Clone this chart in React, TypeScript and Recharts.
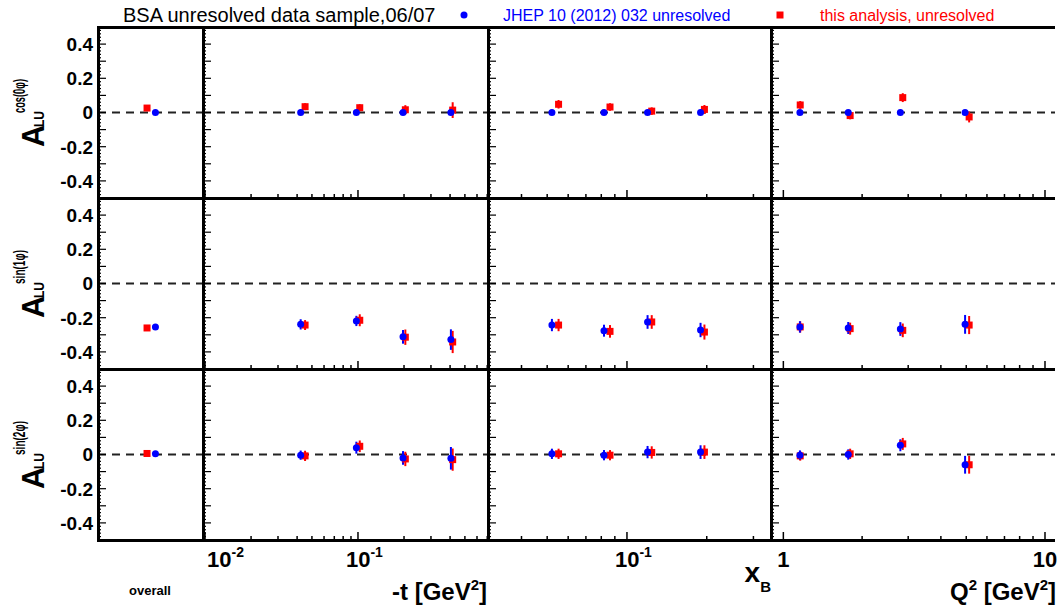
import React from 'react';
import { ScatterChart, Scatter, XAxis, YAxis, ErrorBar, ReferenceLine } from 'recharts';

// bin centres, one sub-array per column: overall, -t, xB, Q2
const blueX = [[0.547], [0.0422, 0.0976, 0.197, 0.405], [0.0521, 0.0819, 0.1196, 0.1895], [1.157, 1.77, 2.8, 4.95]];
const redX = [[0.467], [0.0451, 0.1027, 0.204, 0.416], [0.0552, 0.0863, 0.124, 0.196], [1.16, 1.8, 2.86, 5.13]];

// A_LU^cos(0phi)
const cos0Blue = [[0], [0, 0, 0, 0], [0, 0, 0, 0], [0, 0, 0, 0]];
const cos0BlueErr = [[0], [0, 0, 0, 0], [0, 0, 0, 0], [0, 0, 0, 0]];
const cos0Red = [[0.026], [0.034, 0.028, 0.016, 0.014], [0.048, 0.032, 0.008, 0.018], [0.044, -0.018, 0.087, -0.026]];
const cos0RedErr = [[0.006], [0.02, 0.02, 0.027, 0.046], [0.025, 0.022, 0.022, 0.026], [0.023, 0.022, 0.026, 0.032]];

// A_LU^sin(1phi)
const sin1Blue = [[-0.255], [-0.239, -0.219, -0.312, -0.328], [-0.243, -0.276, -0.225, -0.272], [-0.254, -0.26, -0.266, -0.239]];
const sin1BlueErr = [[0.008], [0.03, 0.03, 0.04, 0.06], [0.036, 0.035, 0.04, 0.042], [0.033, 0.035, 0.04, 0.055]];
const sin1Red = [[-0.26], [-0.243, -0.215, -0.314, -0.342], [-0.243, -0.28, -0.225, -0.284], [-0.254, -0.264, -0.274, -0.243]];
const sin1RedErr = [[0.008], [0.029, 0.035, 0.045, 0.065], [0.036, 0.037, 0.04, 0.044], [0.033, 0.035, 0.04, 0.053]];

// A_LU^sin(2phi)
const sin2Blue = [[0.004], [-0.004, 0.04, -0.02, -0.022], [0.004, -0.004, 0.014, 0.014], [-0.004, 0, 0.054, -0.06]];
const sin2BlueErr = [[0.008], [0.027, 0.035, 0.04, 0.066], [0.03, 0.03, 0.036, 0.04], [0.028, 0.03, 0.035, 0.052]];
const sin2Red = [[0.006], [-0.008, 0.048, -0.026, -0.03], [0.004, -0.004, 0.012, 0.014], [-0.008, 0.004, 0.062, -0.06]];
const sin2RedErr = [[0.008], [0.03, 0.034, 0.042, 0.065], [0.03, 0.03, 0.036, 0.04], [0.028, 0.03, 0.035, 0.052]];

const rowSup = ['cos(0\u03c6)', 'sin(1\u03c6)', 'sin(2\u03c6)'];

// axis ticks
const tTicks = [0.01, 0.02, 0.03, 0.04, 0.05, 0.06, 0.07, 0.08, 0.09, 0.1, 0.2, 0.3, 0.4, 0.5, 0.6, 0.7];
const xbTicks = [0.04, 0.05, 0.06, 0.07, 0.08, 0.09, 0.1, 0.2, 0.3];
const q2Ticks = [1, 2, 3, 4, 5, 6, 7, 8, 9, 10];
const tLabelAt = [0.01, 0.1];
const tLabelText = [['10', '-2'], ['10', '-1']];
const xbLabelAt = [0.1];
const xbLabelText = [['10', '-1']];
const q2LabelAt = [1, 10];
const q2LabelText = [['1', ''], ['10', '']];
const yLabelAt = [0.4, 0.2, 0, -0.2, -0.4];
const yLabelText = ['0.4', '0.2', '0', '-0.2', '-0.4'];

const BLUE = '#0000ff';
const RED = '#ff0000';
const FONT = '"Liberation Sans", Arial, Helvetica, sans-serif';

const colEdges = [98, 203, 488, 771, 1055];
const rowTops = [27, 198, 369];
const H = 171;
const xDomains: [number, number][] = [[0, 1], [0.0097, 0.708], [0.0299, 0.3495], [0.897, 10.92]];
const xTickSets = [[], tTicks, xbTicks, q2Ticks];
const xLabelAts = [[], tLabelAt, xbLabelAt, q2LabelAt];
const xLabelTexts = [[], tLabelText, xbLabelText, q2LabelText];

const blueVals = [cos0Blue, sin1Blue, sin2Blue];
const blueErrs = [cos0BlueErr, sin1BlueErr, sin2BlueErr];
const redVals = [cos0Red, sin1Red, sin2Red];
const redErrs = [cos0RedErr, sin1RedErr, sin2RedErr];

const yTicks = Array.from({ length: 51 }, (_, i) => (i - 25) / 50);

const squareShape = (p: any) => <rect x={p.cx - 3.5} y={p.cy - 3.5} width={7} height={7} fill={RED} />;
const circleShape = (p: any) => <circle cx={p.cx} cy={p.cy} r={3.5} fill={BLUE} />;

function Panel({ r, c }: { r: number; c: number }) {
  const w = colEdges[c + 1] - colEdges[c];
  const red = redX[c].map((x, i) => ({ x, y: redVals[r][c][i], err: redErrs[r][c][i] }));
  const blue = blueX[c].map((x, i) => ({ x, y: blueVals[r][c][i], err: blueErrs[r][c][i] }));
  const bottom = r === 2;

  const xTick = (p: any) => {
    const v = p.payload.value;
    const li = xLabelAts[c].findIndex((a) => Math.abs(a - v) / v < 1e-6);
    const major = li >= 0;
    const len = major ? 8 : 4;
    let label = null;
    if (bottom && major) {
      const [base, exp] = xLabelTexts[c][li];
      if (exp) {
        const sx = p.x - 12 < 0 ? p.x + 2 : p.x - 12;
        label = (
          <text x={sx} y={H + 27} fontSize={22} fontWeight="bold" fontFamily={FONT} fill="#000">
            {base}
            <tspan dy={-10} fontSize={14}>{exp}</tspan>
          </text>
        );
      } else {
        label = (
          <text x={p.x} y={H + 27} fontSize={22} fontWeight="bold" fontFamily={FONT} fill="#000" textAnchor="middle">
            {base}
          </text>
        );
      }
    }
    return (
      <g>
        <line x1={p.x} x2={p.x} y1={H} y2={H - len} stroke="#000" strokeWidth={1.5} />
        {label}
      </g>
    );
  };

  const yTick = (p: any) => {
    const v = p.payload.value;
    const major = Math.round(v * 50) % 5 === 0;
    const li = yLabelAt.findIndex((a) => Math.abs(a - v) < 1e-9);
    return (
      <g>
        <line x1={0} x2={major ? 8 : 3} y1={p.y} y2={p.y} stroke="#000" strokeWidth={1.2} />
        {c === 0 && li >= 0 ? (
          <text x={-5} y={p.y} dy="0.36em" textAnchor="end" fontSize={19} fontWeight="bold" fontFamily={FONT} fill="#000">
            {yLabelText[li]}
          </text>
        ) : null}
      </g>
    );
  };

  return (
    <div style={{ position: 'absolute', left: colEdges[c], top: rowTops[r] }}>
      <ScatterChart width={w} height={H} margin={{ top: 0, right: 0, bottom: 0, left: 0 }}>
        <XAxis
          type="number"
          dataKey="x"
          scale={c === 0 ? 'linear' : 'log'}
          domain={xDomains[c]}
          allowDataOverflow
          ticks={xTickSets[c]}
          interval={0}
          height={30}
          mirror
          axisLine={false}
          tickLine={false}
          hide={c === 0}
          tick={xTick}
        />
        <YAxis
          type="number"
          dataKey="y"
          domain={[-0.5, 0.5]}
          allowDataOverflow
          ticks={yTicks}
          interval={0}
          width={30}
          mirror
          axisLine={false}
          tickLine={false}
          tick={yTick}
        />
        <ReferenceLine y={0} stroke="#222" strokeWidth={2} strokeDasharray="8 6" />
        <Scatter data={red} shape={squareShape} isAnimationActive={false}>
          <ErrorBar dataKey="err" direction="y" width={0} stroke={RED} strokeWidth={2} />
        </Scatter>
        <Scatter data={blue} shape={circleShape} isAnimationActive={false}>
          <ErrorBar dataKey="err" direction="y" width={0} stroke={BLUE} strokeWidth={2} />
        </Scatter>
      </ScatterChart>
    </div>
  );
}

export default function App() {
  const hLines = [27, 198, 369, 540];
  const vLines = [98, 203, 488, 771];
  return (
    <div style={{ position: 'absolute', left: 0, top: 0, width: 1059, height: 606, background: '#fff', fontFamily: FONT }}>
      <style>{`.recharts-surface{overflow:visible}`}</style>
      {[0, 1, 2].map((r) => [0, 1, 2, 3].map((c) => <Panel key={`${r}-${c}`} r={r} c={c} />))}

      {hLines.map((y) => (
        <div key={`h${y}`} style={{ position: 'absolute', left: 97, top: y - 1.5, width: 1055 - 97, height: 3, background: '#000' }} />
      ))}
      {vLines.map((x) => (
        <div key={`v${x}`} style={{ position: 'absolute', left: x - 1.5, top: 25.5, width: 3, height: 540 - 27 + 3, background: '#000' }} />
      ))}

      <svg width={1059} height={606} style={{ position: 'absolute', left: 0, top: 0, pointerEvents: 'none' }} fontFamily={FONT}>
        <text x={123} y={22} fontSize={20} fill="#000">BSA unresolved data sample,06/07</text>
        <circle cx={464} cy={15} r={3.5} fill={BLUE} />
        <text x={503} y={21} fontSize={16} fill={BLUE}>JHEP 10 (2012) 032 unresolved</text>
        <rect x={776.5} y={11.5} width={7} height={7} fill={RED} />
        <text x={820} y={21} fontSize={16} fill={RED}>this analysis, unresolved</text>

        {rowTops.map((t, r) => (
          <g key={r} fontWeight="bold" fill="#000">
            <text transform={`translate(44,${t + 120}) rotate(-90)`} fontSize={32} textLength={22} lengthAdjust="spacingAndGlyphs">A</text>
            <text transform={`translate(44,${t + 100}) rotate(-90)`} fontSize={15} textLength={16} lengthAdjust="spacingAndGlyphs">LU</text>
            <text transform={`translate(25,${t + 86}) rotate(-90)`} fontSize={16} textLength={34} lengthAdjust="spacingAndGlyphs">{rowSup[r]}</text>
          </g>
        ))}

        <text x={150} y={595} fontSize={13} fontWeight="bold" textAnchor="middle">overall</text>
        <text x={487} y={600} fontSize={24} fontWeight="bold" textAnchor="end">
          -t [GeV<tspan fontSize={15} dy={-10}>2</tspan><tspan dy={10}>]</tspan>
        </text>
        <text x={771} y={582} fontWeight="bold" textAnchor="end">
          <tspan fontSize={28}>x</tspan>
          <tspan fontSize={15} dy={10}>B</tspan>
        </text>
        <text x={1056} y={600} fontSize={24} fontWeight="bold" textAnchor="end">
          Q<tspan fontSize={15} dy={-10}>2</tspan><tspan dy={10}> [GeV</tspan><tspan fontSize={15} dy={-10}>2</tspan><tspan dy={10}>]</tspan>
        </text>
      </svg>
    </div>
  );
}
